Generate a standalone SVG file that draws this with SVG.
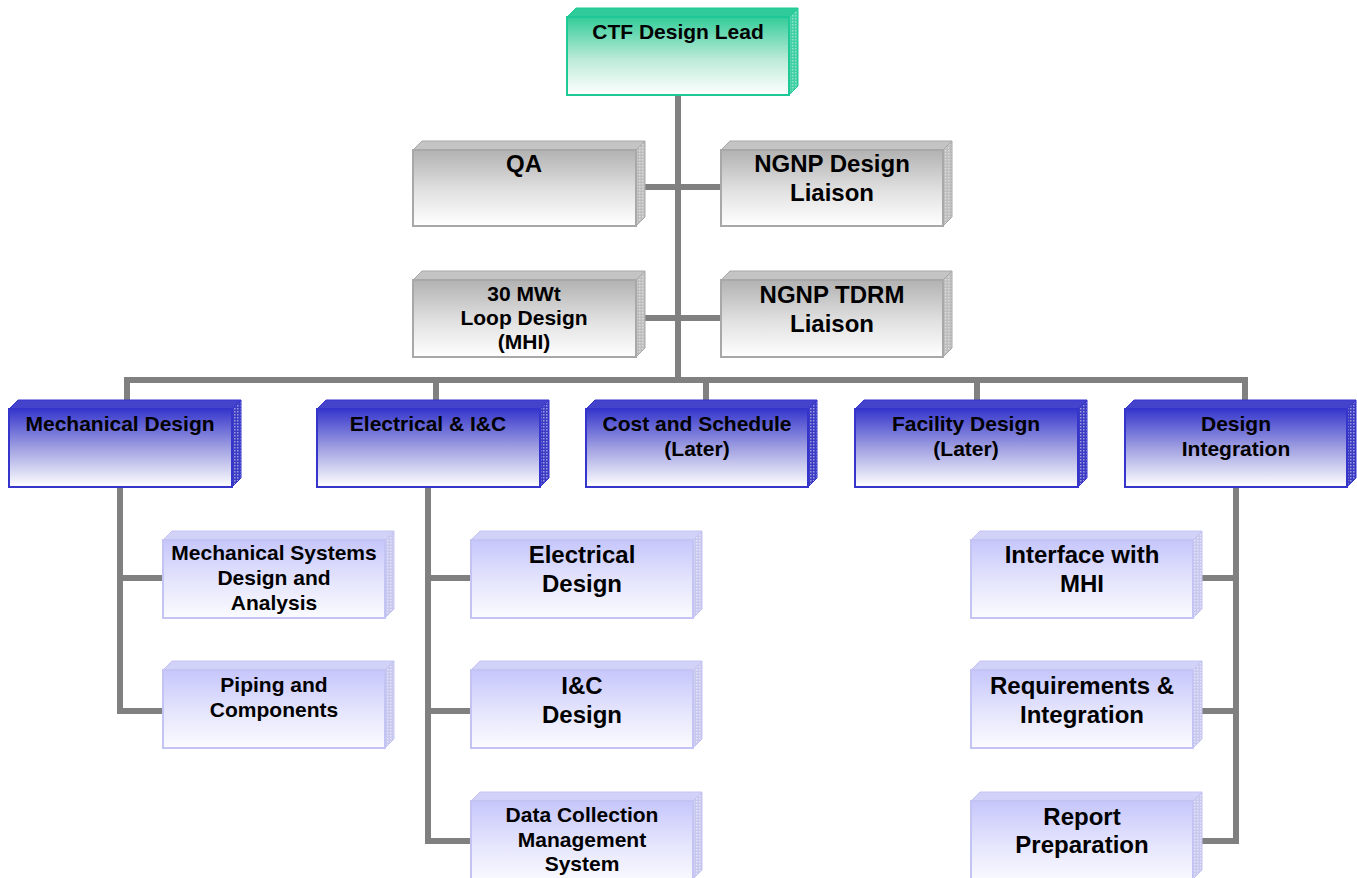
<svg xmlns="http://www.w3.org/2000/svg" width="1357" height="878" viewBox="0 0 1357 878">
<defs>
<linearGradient id="gTeal" x1="0" y1="0" x2="0" y2="1"><stop offset="0" stop-color="#33cc99"/><stop offset="0.55" stop-color="#bdebd9"/><stop offset="1" stop-color="#ffffff"/></linearGradient>
<linearGradient id="gGray" x1="0" y1="0" x2="0" y2="1"><stop offset="0" stop-color="#b2b2b2"/><stop offset="0.55" stop-color="#e2e2e2"/><stop offset="1" stop-color="#ffffff"/></linearGradient>
<linearGradient id="gBlue" x1="0" y1="0" x2="0" y2="1"><stop offset="0" stop-color="#3636cc"/><stop offset="0.5" stop-color="#a0a0e2"/><stop offset="1" stop-color="#ffffff"/></linearGradient>
<linearGradient id="gLight" x1="0" y1="0" x2="0" y2="1"><stop offset="0" stop-color="#c6c6fc"/><stop offset="0.55" stop-color="#e6e6fd"/><stop offset="1" stop-color="#fbfbff"/></linearGradient>
<pattern id="hTeal" width="3" height="3" patternUnits="userSpaceOnUse"><rect width="3" height="3" fill="#3fd0a4"/><rect width="1.5" height="1.5" fill="#8ee2c6"/></pattern>
<pattern id="hGray" width="3" height="3" patternUnits="userSpaceOnUse"><rect width="3" height="3" fill="#bdbdbd"/><rect width="1.5" height="1.5" fill="#dcdcdc"/></pattern>
<pattern id="hBlue" width="3" height="3" patternUnits="userSpaceOnUse"><rect width="3" height="3" fill="#3b3bc4"/><rect width="1.5" height="1.5" fill="#9a9ae0"/></pattern>
<pattern id="hLight" width="3" height="3" patternUnits="userSpaceOnUse"><rect width="3" height="3" fill="#c8c8ee"/><rect width="1.5" height="1.5" fill="#e4e4fa"/></pattern>
</defs>
<style>
.t{font-family:"Liberation Sans",Arial,sans-serif;font-weight:bold;fill:#000;text-anchor:middle}
.s21{font-size:21px}.s24{font-size:24px}
.conn{fill:none;stroke:#808080;stroke-width:6;stroke-linecap:butt;stroke-linejoin:miter}
.tf{fill:url(#gTeal);stroke:#1fc897;stroke-width:2}.tt{fill:#2fcc9a;stroke:#1fc897;stroke-width:1}.ts{fill:url(#hTeal);stroke:#1fc897;stroke-width:1}
.gf{fill:url(#gGray);stroke:#a8a8a8;stroke-width:2}.gt{fill:#c4c4c4;stroke:#a8a8a8;stroke-width:1}.gs{fill:url(#hGray);stroke:#a8a8a8;stroke-width:1}
.bf{fill:url(#gBlue);stroke:#3535cc;stroke-width:2}.bt{fill:#4343cc;stroke:#3535cc;stroke-width:1}.bs{fill:url(#hBlue);stroke:#3535cc;stroke-width:1}
.lf{fill:url(#gLight);stroke:#c4c4f4;stroke-width:2}.lt{fill:#d2d2f8;stroke:#c4c4f4;stroke-width:1}.ls{fill:url(#hLight);stroke:#c4c4f4;stroke-width:1}
</style>

<g id="connectors">
<path class="conn" d="M678 95 V380"/>
<path class="conn" d="M645 187 H721"/>
<path class="conn" d="M645 318 H721"/>
<path class="conn" d="M127 403 V380 H1245 V403"/>
<path class="conn" d="M436 380 V403"/>
<path class="conn" d="M706 380 V403"/>
<path class="conn" d="M977 380 V403"/>
<path class="conn" d="M120 487 V711 H163 M120 578 H163"/>
<path class="conn" d="M428 487 V841 H471 M428 578 H471 M428 711 H471"/>
<path class="conn" d="M1236 487 V841 H1202 M1236 578 H1202 M1236 711 H1202"/>
</g>

<g id="ctf-design-lead">
<polygon class="tt" points="567,17 576,8 798,8 789,17"/>
<polygon class="ts" points="789,17 798,8 798,86 789,95"/>
<rect class="tf" x="567" y="17" width="222" height="78"/>
<text class="t s21" x="678" y="39">CTF Design Lead</text>
</g>

<g id="qa">
<polygon class="gt" points="413,150 422,141 645,141 636,150"/>
<polygon class="gs" points="636,150 645,141 645,217 636,226"/>
<rect class="gf" x="413" y="150" width="223" height="76"/>
<text class="t s24" x="524" y="172">QA</text>
</g>

<g id="ngnp-design-liaison">
<polygon class="gt" points="721,150 730,141 952,141 943,150"/>
<polygon class="gs" points="943,150 952,141 952,217 943,226"/>
<rect class="gf" x="721" y="150" width="222" height="76"/>
<text class="t s24" x="832" y="172">NGNP Design</text>
<text class="t s24" x="832" y="201">Liaison</text>
</g>

<g id="loop-design">
<polygon class="gt" points="413,280 422,271 645,271 636,280"/>
<polygon class="gs" points="636,280 645,271 645,348 636,357"/>
<rect class="gf" x="413" y="280" width="223" height="77"/>
<text class="t s21" x="524" y="301">30 MWt</text>
<text class="t s21" x="524" y="325">Loop Design</text>
<text class="t s21" x="524" y="349">(MHI)</text>
</g>

<g id="ngnp-tdrm-liaison">
<polygon class="gt" points="721,280 730,271 952,271 943,280"/>
<polygon class="gs" points="943,280 952,271 952,348 943,357"/>
<rect class="gf" x="721" y="280" width="222" height="77"/>
<text class="t s24" x="832" y="303">NGNP TDRM</text>
<text class="t s24" x="832" y="332">Liaison</text>
</g>

<g id="mechanical-design">
<polygon class="bt" points="9,409 18,400 241,400 232,409"/>
<polygon class="bs" points="232,409 241,400 241,478 232,487"/>
<rect class="bf" x="9" y="409" width="223" height="78"/>
<text class="t s21" x="120" y="431">Mechanical Design</text>
</g>

<g id="electrical-ic">
<polygon class="bt" points="317,409 326,400 549,400 540,409"/>
<polygon class="bs" points="540,409 549,400 549,478 540,487"/>
<rect class="bf" x="317" y="409" width="223" height="78"/>
<text class="t s21" x="428" y="431">Electrical &amp; I&amp;C</text>
</g>

<g id="cost-schedule">
<polygon class="bt" points="586,409 595,400 817,400 808,409"/>
<polygon class="bs" points="808,409 817,400 817,478 808,487"/>
<rect class="bf" x="586" y="409" width="222" height="78"/>
<text class="t s21" x="697" y="431">Cost and Schedule</text>
<text class="t s21" x="697" y="456">(Later)</text>
</g>

<g id="facility-design">
<polygon class="bt" points="855,409 864,400 1087,400 1078,409"/>
<polygon class="bs" points="1078,409 1087,400 1087,478 1078,487"/>
<rect class="bf" x="855" y="409" width="223" height="78"/>
<text class="t s21" x="966" y="431">Facility Design</text>
<text class="t s21" x="966" y="456">(Later)</text>
</g>

<g id="design-integration">
<polygon class="bt" points="1125,409 1134,400 1356,400 1347,409"/>
<polygon class="bs" points="1347,409 1356,400 1356,478 1347,487"/>
<rect class="bf" x="1125" y="409" width="222" height="78"/>
<text class="t s21" x="1236" y="431">Design</text>
<text class="t s21" x="1236" y="456">Integration</text>
</g>

<g id="mech-systems">
<polygon class="lt" points="163,540 172,531 394,531 385,540"/>
<polygon class="ls" points="385,540 394,531 394,609 385,618"/>
<rect class="lf" x="163" y="540" width="222" height="78"/>
<text class="t s21" x="274" y="560">Mechanical Systems</text>
<text class="t s21" x="274" y="585">Design and</text>
<text class="t s21" x="274" y="610">Analysis</text>
</g>

<g id="piping-components">
<polygon class="lt" points="163,670 172,661 394,661 385,670"/>
<polygon class="ls" points="385,670 394,661 394,739 385,748"/>
<rect class="lf" x="163" y="670" width="222" height="78"/>
<text class="t s21" x="274" y="692">Piping and</text>
<text class="t s21" x="274" y="717">Components</text>
</g>

<g id="electrical-design">
<polygon class="lt" points="471,540 480,531 702,531 693,540"/>
<polygon class="ls" points="693,540 702,531 702,609 693,618"/>
<rect class="lf" x="471" y="540" width="222" height="78"/>
<text class="t s24" x="582" y="563">Electrical</text>
<text class="t s24" x="582" y="592">Design</text>
</g>

<g id="ic-design">
<polygon class="lt" points="471,670 480,661 702,661 693,670"/>
<polygon class="ls" points="693,670 702,661 702,739 693,748"/>
<rect class="lf" x="471" y="670" width="222" height="78"/>
<text class="t s24" x="582" y="694">I&amp;C</text>
<text class="t s24" x="582" y="723">Design</text>
</g>

<g id="data-collection">
<polygon class="lt" points="471,801 480,792 702,792 693,801"/>
<polygon class="ls" points="693,801 702,792 702,870 693,879"/>
<rect class="lf" x="471" y="801" width="222" height="82"/>
<text class="t s21" x="582" y="822">Data Collection</text>
<text class="t s21" x="582" y="847">Management</text>
<text class="t s21" x="582" y="871">System</text>
</g>

<g id="interface-mhi">
<polygon class="lt" points="971,540 980,531 1202,531 1193,540"/>
<polygon class="ls" points="1193,540 1202,531 1202,609 1193,618"/>
<rect class="lf" x="971" y="540" width="222" height="78"/>
<text class="t s24" x="1082" y="563">Interface with</text>
<text class="t s24" x="1082" y="592">MHI</text>
</g>

<g id="requirements-integration">
<polygon class="lt" points="971,670 980,661 1202,661 1193,670"/>
<polygon class="ls" points="1193,670 1202,661 1202,739 1193,748"/>
<rect class="lf" x="971" y="670" width="222" height="78"/>
<text class="t s24" x="1082" y="694">Requirements &amp;</text>
<text class="t s24" x="1082" y="723">Integration</text>
</g>

<g id="report-preparation">
<polygon class="lt" points="971,801 980,792 1202,792 1193,801"/>
<polygon class="ls" points="1193,801 1202,792 1202,870 1193,879"/>
<rect class="lf" x="971" y="801" width="222" height="82"/>
<text class="t s24" x="1082" y="825">Report</text>
<text class="t s24" x="1082" y="853">Preparation</text>
</g>
</svg>
